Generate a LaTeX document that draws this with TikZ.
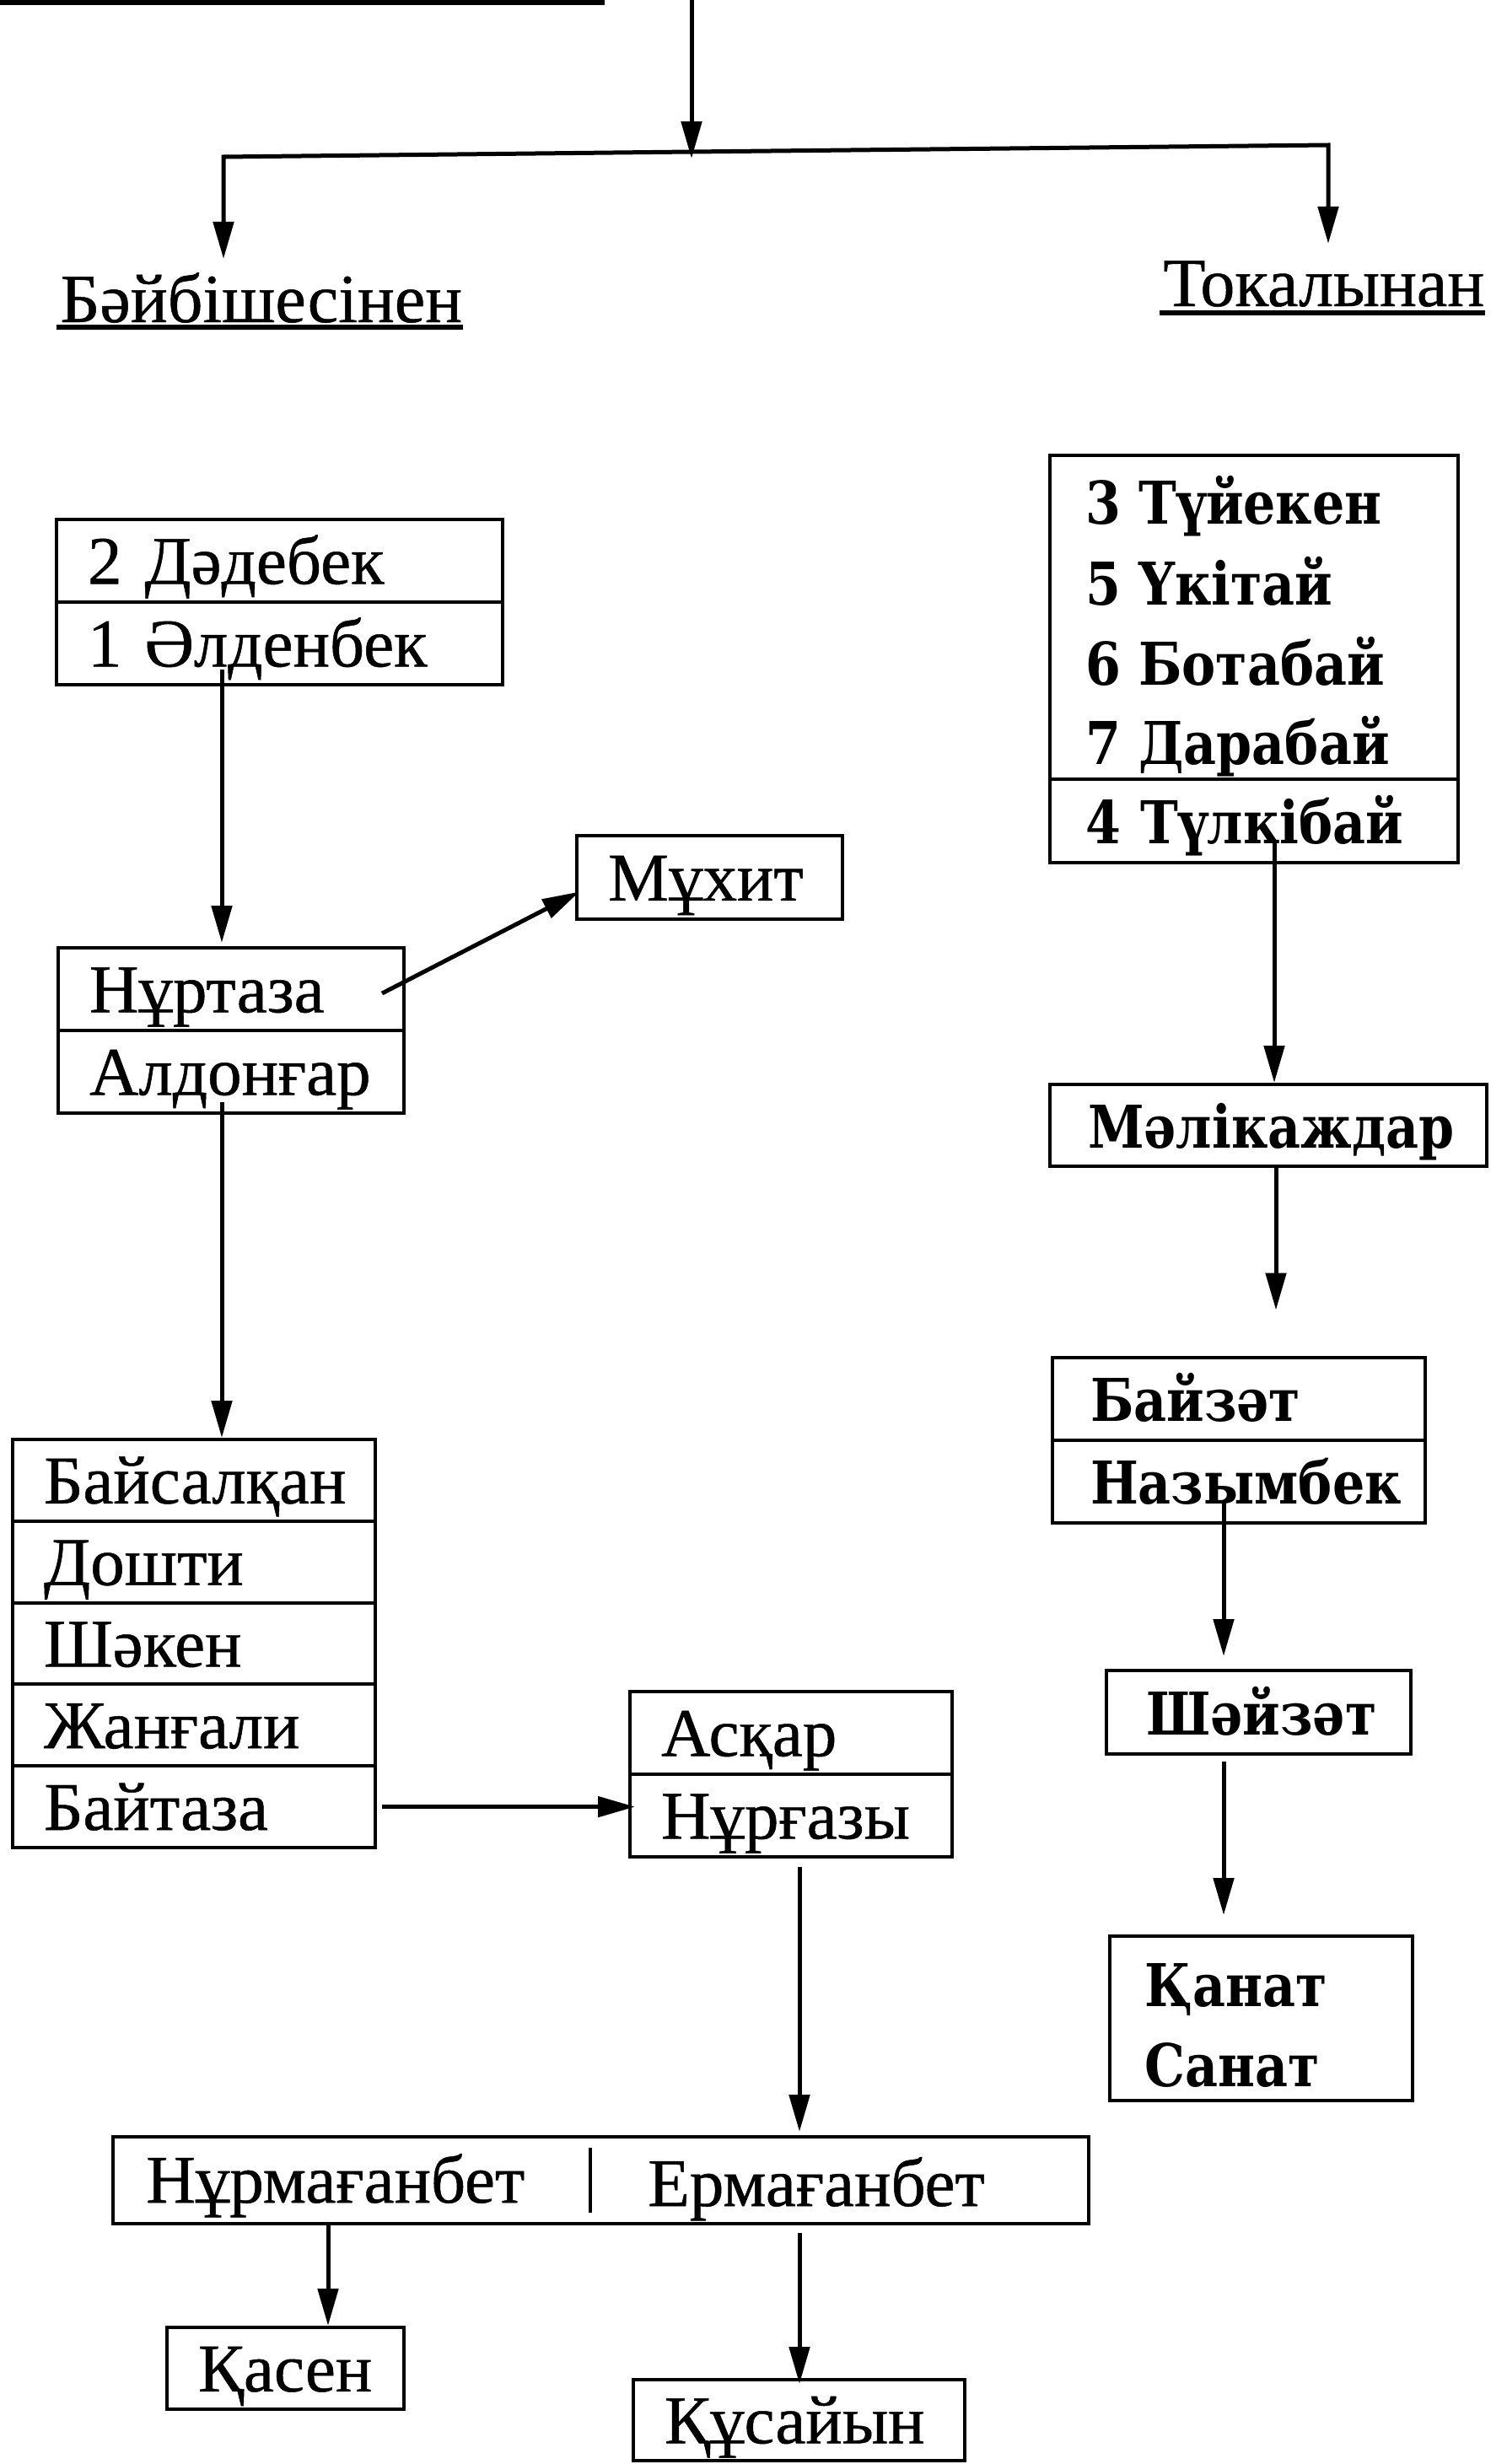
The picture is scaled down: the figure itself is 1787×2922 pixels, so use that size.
\documentclass[tikz,border=0pt]{standalone}
\usepackage{fontspec}
\newfontfamily\lf{Liberation Serif}[FakeBold=0.6]
\newfontfamily\rf{DejaVu Serif}[FakeStretch=0.86]
\usetikzlibrary{arrows.meta,calc}
\begin{document}
\begin{tikzpicture}[x=0.5pt,y=-0.5pt,
  box/.style={draw, line width=2pt, inner ysep=0pt, align=left},
  lfont/.style={font=\lf\fontsize{40.5}{48}\selectfont},
  rfont/.style={font=\rf\bfseries\fontsize{35}{47.5}\selectfont},
  lrow/.style={box, lfont, inner xsep=18.5pt, minimum height=49pt, text height=27.4pt, text depth=0pt},
  rrow/.style={box, rfont, inner xsep=21pt, minimum height=49pt, text height=26.7pt, text depth=0pt},
  ltext/.style={lfont, inner sep=0pt, anchor=base west},
  rtext/.style={rfont, inner sep=0pt, anchor=base west},
  arr/.style={line width=2.5pt, line join=miter, -{Triangle[length=22pt,width=12pt]}},
  head/.style={font=\lf\fontsize{41}{48}\selectfont, inner sep=0pt, anchor=base west},
  ul/.style={line width=3pt}]
\useasboundingbox (0,0) rectangle (1787,2922);

% top fragment
\draw[line width=3pt] (0,3) -- (717,3);

% top connector
\coordinate (top) at (820,0);
\coordinate (jn) at (820,180);
\coordinate (lc) at (265,186);
\coordinate (rc) at (1575,172);
\coordinate (lt) at (265,307);
\coordinate (rt) at (1575,289);
\draw[arr] (top) -- ($(jn)+(0,8)$);
\draw[arr] (jn) -- (lc) -- (lt);
\draw[arr] (jn) -- (rc) -- (rt);

% headings
\node[head] (hb) at (71,382) {Бәйбішесінен};
\node[head] (ht) at (1379,363) {Токалынан};
\draw[ul] ([xshift=-2pt,yshift=-3pt]hb.base west) -- ([yshift=-3pt]hb.base east);
\draw[ul] ([xshift=-2pt,yshift=-4pt]ht.base west) -- ([yshift=-4pt]ht.base east);

% left branch
\node[lrow, text width=227.5pt] (A1) at (331.5,665) {2 Дәдебек};
\node[lrow, text width=227.5pt] (A2) at (331.5,763) {1 Әлденбек};
\node[lrow, text width=168pt] (B1) at (274,1173) {Нұртаза};
\node[lrow, text width=168pt] (B2) at (274,1271) {Алдонғар};
\node[lrow, text width=120.5pt, minimum height=49.5pt] (M) at (841.5,1040.5) {Мұхит};

\node[lrow, text width=178pt, minimum height=48.4pt] (C1) at (230,1755.4) {Байсалқан};
\node[lrow, text width=178pt, minimum height=48.4pt] (C2) at (230,1852.2) {Дошти};
\node[lrow, text width=178pt, minimum height=48.4pt] (C3) at (230,1949) {Шәкен};
\node[lrow, text width=178pt, minimum height=48.4pt] (C4) at (230,2045.8) {Жанғали};
\node[lrow, text width=178pt, minimum height=48.4pt] (C5) at (230,2142.6) {Байтаза};

\node[lrow, text width=154pt] (D1) at (938,2055) {Асқар};
\node[lrow, text width=154pt] (D2) at (938,2153) {Нұрғазы};

\node[box, minimum width=578.5pt, minimum height=51.5pt] (E) at (712.5,2585.5) {};
\draw[line width=2pt] ($(E.north west)+(568,15)$) -- ($(E.south west)+(568,-15)$);
\node[ltext] (E1) at (173,2612) {Нұрмағанбет};
\node[ltext] (E2) at (768,2616) {Ермағанбет};

\node[lrow, text width=103.5pt, minimum height=48.5pt] (K) at (338.5,2808.5) {Қасен};
\node[lrow, text width=159.5pt, minimum height=48pt] (Q) at (947.5,2870) {Құсайын};

\draw[arr] ($(A2.south west)+(198,-20)$) -- ($(B1.north west)+(196,-4)$);
\draw[arr] ($(B1.east)+(-28,5)$) -- ($(M.west)+(5,17)$);
\draw[arr] ($(B2.south west)+(196,-15)$) -- ($(C1.north west)+(250,0)$);
\draw[arr] ([xshift=3pt]C5.east) -- ([xshift=4pt]D2.west |- C5.east);
\draw[arr] ($(D2.south west)+(203,10)$) -- ($(E.north west)+(816,-4)$);
\draw[arr] ($(E.south west)+(257,0)$) -- ($(K.north west)+(193,0)$);
\draw[arr] ($(E.south west)+(816,9)$) -- ($(Q.north west)+(199,7)$);

% right branch
\node[box, minimum width=242pt, minimum height=192pt] (F1) at (1487,732) {};
\node[rtext] (f1) at (1287,621) {3 Түйекен};
\node[rtext] (f2) at (1287,717) {5 Үкітай};
\node[rtext] (f3) at (1287,812) {6 Ботабай};
\node[rtext] (f4) at (1287,906) {7 Дарабай};
\node[rrow, text width=200pt, minimum height=49.5pt] (F2) at (1487,973.5) {4 Түлкібай};
\node[rrow, inner xsep=22.5pt, text width=214pt, minimum height=48.5pt] (Ml) at (1504,1334.5) {Мәлікаждар};
\node[rrow, inner xsep=22.5pt, text width=176pt] (G1) at (1469,1658.5) {Байзәт};
\node[rrow, inner xsep=22.5pt, text width=176pt] (G2) at (1469,1756.5) {Назымбек};
\node[rrow, inner xsep=23.5pt, text width=133.5pt, minimum height=49.5pt] (Sh) at (1492.5,2030.5) {Шәйзәт};
\node[box, minimum width=179.5pt, minimum height=97.5pt] (Hb) at (1495.5,2393.5) {};
\node[rtext] (h1) at (1357,2379) {Қанат};
\node[rtext] (h2) at (1357,2474) {Санат};

\draw[arr] ($(F2.south west)+(268,-25)$) -- ($(Ml.north west)+(268,0)$);
\draw[arr] ($(Ml.south west)+(270,0)$) -- ($(G1.north west)+(267,-54)$);
\draw[arr] ($(G2.south west)+(205,-26)$) -- ($(Sh.north west)+(141,-15)$);
\draw[arr] ($(Sh.south west)+(141,7)$) -- ($(Hb.north west)+(137,-23)$);
\end{tikzpicture}
\end{document}
